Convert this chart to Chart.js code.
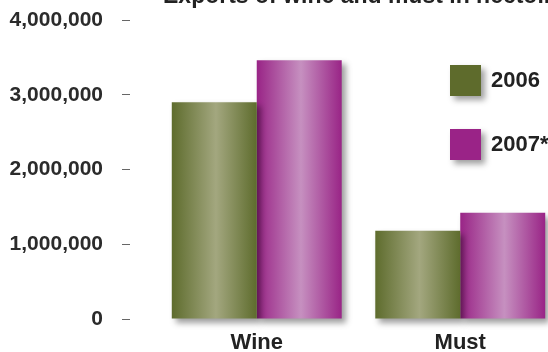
<!DOCTYPE html>
<html>
<head>
<meta charset="utf-8">
<script src="https://cdn.jsdelivr.net/npm/chart.js@4"></script>
<style>
  html, body { margin: 0; padding: 0; background: #fff; overflow: hidden; }
  #wrap { width: 562px; height: 352px; }
</style>
</head>
<body>
<div id="wrap"><canvas id="chart" width="562" height="352"></canvas></div>
<script>
const categories = ['Wine', 'Must'];
const seriesLabels = ['2006', '2007*'];
const values2006 = [2900000, 1180000];
const values2007 = [3460000, 1420000];
const yTicks = [0, 1000000, 2000000, 3000000, 4000000];
const titleText = 'Exports of wine and must in hectoliters';

const NARROW = '"Liberation Sans Narrow", "Liberation Sans", Arial, sans-serif';
const palette = [
  { dark: '#5e6c2d', light: '#a3a77f', box: '#5e6b2c' },
  { dark: '#992486', light: '#c690c0', box: '#9a2387' }
];

const setShadow = (ctx) => {
  ctx.shadowColor = 'rgba(0, 0, 0, 0.38)';
  ctx.shadowBlur = 6;
  ctx.shadowOffsetX = 4;
  ctx.shadowOffsetY = 4;
};

// cylinder-like horizontal gradient on each bar, plus drop shadow
const barLook = {
  id: 'barLook',
  beforeDatasetsDraw(chart) {
    const ctx = chart.ctx;
    chart.data.datasets.forEach((ds, i) => {
      const c = palette[i];
      chart.getDatasetMeta(i).data.forEach(el => {
        const x0 = el.x - el.width / 2;
        const g = ctx.createLinearGradient(x0, 0, x0 + el.width, 0);
        g.addColorStop(0, c.dark);
        g.addColorStop(0.52, c.light);
        g.addColorStop(1, c.dark);
        el.options = Object.assign({}, el.options, { backgroundColor: g });
      });
    });
    ctx.save();
    setShadow(ctx);
  },
  afterDatasetsDraw(chart) {
    chart.ctx.restore();
  }
};

const sideLegend = {
  id: 'sideLegend',
  afterDraw(chart) {
    const ctx = chart.ctx;
    chart.data.datasets.forEach((ds, i) => {
      const top = 65 + i * 64;
      ctx.save();
      setShadow(ctx);
      ctx.fillStyle = palette[i].box;
      ctx.fillRect(450, top, 31, 31);
      ctx.restore();
      ctx.save();
      ctx.fillStyle = '#222';
      ctx.font = 'bold 22px ' + NARROW;
      ctx.textBaseline = 'alphabetic';
      ctx.fillText(ds.label, 491, top + 22);
      ctx.restore();
    });
  }
};

const cutTitle = {
  id: 'cutTitle',
  afterDraw(chart) {
    const ctx = chart.ctx;
    ctx.save();
    ctx.fillStyle = '#222';
    ctx.font = 'bold 23px ' + NARROW;
    ctx.textBaseline = 'alphabetic';
    ctx.fillText(titleText, 163, 3);
    ctx.restore();
  }
};

new Chart(document.getElementById('chart'), {
  type: 'bar',
  data: {
    labels: categories,
    datasets: [
      { label: seriesLabels[0], data: values2006, backgroundColor: palette[0].dark },
      { label: seriesLabels[1], data: values2007, backgroundColor: palette[1].dark }
    ]
  },
  options: {
    responsive: false,
    animation: false,
    layout: { padding: { top: 20, left: 0, right: 0, bottom: 0 } },
    datasets: { bar: { categoryPercentage: 0.835, barPercentage: 1, clip: false } },
    plugins: {
      legend: { display: false },
      title: { display: false },
      tooltip: { enabled: false }
    },
    scales: {
      x: {
        afterFit: (s) => { s.height = 33; },
        border: { display: false },
        grid: { display: false },
        ticks: {
          padding: 3,
          color: '#222',
          font: { family: NARROW, weight: 'bold', size: 22 }
        }
      },
      y: {
        min: 0,
        max: 4000000,
        afterBuildTicks: (s) => { s.ticks = yTicks.map(v => ({ value: v })); },
        afterFit: (s) => { s.width = 155; },
        border: { display: false },
        grid: {
          drawOnChartArea: false,
          drawTicks: true,
          tickLength: 45,
          tickColor: '#666',
          tickWidth: 1,
          tickBorderDash: [8, 40],
          tickBorderDashOffset: 36
        },
        ticks: {
          padding: 7,
          color: '#2b2b2b',
          font: { family: '"Liberation Sans", Arial, sans-serif', weight: 'bold', size: 21 },
          callback: (v) => v.toLocaleString('en-US')
        }
      }
    }
  },
  plugins: [barLook, sideLegend, cutTitle]
});
</script>
</body>
</html>
